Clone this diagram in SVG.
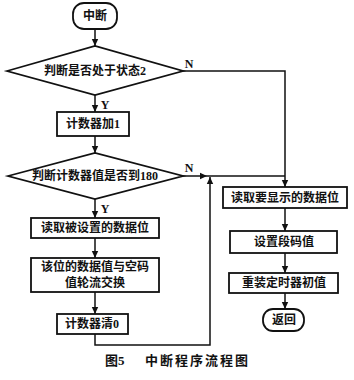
<svg xmlns="http://www.w3.org/2000/svg" width="354" height="380" viewBox="0 0 354 380">
  <style>
    .shape { fill: #fff; stroke: #111; stroke-width: 1.8; }
    .line { fill: none; stroke: #111; stroke-width: 1.5; }
    .t { font-family: "Liberation Serif", "Noto Sans CJK SC", serif; font-size: 12px; font-weight: bold; fill: #111; text-anchor: middle; dominant-baseline: central; }
    .lbl { font-family: "Liberation Serif", serif; font-size: 12px; font-weight: bold; fill: #111; text-anchor: middle; dominant-baseline: central; }
    .cap { font-family: "Liberation Serif", "Noto Sans CJK SC", serif; font-size: 13px; font-weight: bold; fill: #111; dominant-baseline: central; }
  </style>
  <defs>
    <marker id="arr" markerWidth="8" markerHeight="8" refX="7" refY="4" orient="auto" markerUnits="userSpaceOnUse">
      <path d="M0,0.8 L7,4 L0,7.2 Z" fill="#111"/>
    </marker>
  </defs>
  <rect width="354" height="380" fill="#fff"/>

  <g id="connectors">
    <line class="line" x1="95" y1="29" x2="95" y2="46" marker-end="url(#arr)"/>
    <line class="line" x1="95" y1="95" x2="95" y2="112" marker-end="url(#arr)"/>
    <line class="line" x1="95" y1="136" x2="95" y2="153" marker-end="url(#arr)"/>
    <line class="line" x1="95" y1="199" x2="95" y2="218" marker-end="url(#arr)"/>
    <line class="line" x1="95" y1="238" x2="95" y2="258" marker-end="url(#arr)"/>
    <line class="line" x1="95" y1="292" x2="95" y2="314" marker-end="url(#arr)"/>
    <polyline class="line" points="183,71 285,71 285,187" marker-end="url(#arr)"/>
    <line class="line" x1="183" y1="176" x2="207" y2="176" marker-end="url(#arr)"/>
    <line class="line" x1="207" y1="176" x2="285" y2="176"/>
    <polyline class="line" points="95,334 95,345 210,345 210,177" marker-end="url(#arr)"/>
    <line class="line" x1="285" y1="208" x2="285" y2="231" marker-end="url(#arr)"/>
    <line class="line" x1="285" y1="253" x2="285" y2="273" marker-end="url(#arr)"/>
    <line class="line" x1="285" y1="293" x2="285" y2="309" marker-end="url(#arr)"/>
    <text class="lbl" x="189" y="64">N</text>
    <text class="lbl" x="105" y="105">Y</text>
    <text class="lbl" x="189" y="168">N</text>
    <text class="lbl" x="105" y="209">Y</text>
  </g>

  <g id="start">
    <rect class="shape" x="73" y="3" width="44" height="26" rx="11"/>
    <text class="t" x="95" y="16">中断</text>
  </g>
  <g id="decision1">
    <polygon class="shape" points="7,71 95,46 183,71 95,95"/>
    <text class="t" x="95" y="71" font-size="11.5">判断是否处于状态2</text>
  </g>
  <g id="counter-inc">
    <rect class="shape" x="57" y="112" width="72" height="24"/>
    <text class="t" x="93" y="124">计数器加1</text>
  </g>
  <g id="decision2">
    <polygon class="shape" points="8,176 95,153 183,176 95,199"/>
    <text class="t" x="95" y="176">判断计数器值是否到180</text>
  </g>
  <g id="read-set">
    <rect class="shape" x="31" y="218" width="128" height="20"/>
    <text class="t" x="95" y="228">读取被设置的数据位</text>
  </g>
  <g id="swap">
    <rect class="shape" x="31" y="258" width="128" height="34"/>
    <text class="t" x="95" y="267">该位的数据值与空码</text>
    <text class="t" x="95" y="283">值轮流交换</text>
  </g>
  <g id="counter-clear">
    <rect class="shape" x="57" y="314" width="71" height="20"/>
    <text class="t" x="92" y="324">计数器清0</text>
  </g>
  <g id="read-display">
    <rect class="shape" x="223" y="187" width="124" height="21"/>
    <text class="t" x="285" y="197.5">读取要显示的数据位</text>
  </g>
  <g id="set-seg">
    <rect class="shape" x="230" y="231" width="107" height="22"/>
    <text class="t" x="284" y="242">设置段码值</text>
  </g>
  <g id="reload">
    <rect class="shape" x="229" y="273" width="109" height="20"/>
    <text class="t" x="284" y="283">重装定时器初值</text>
  </g>
  <g id="return">
    <rect class="shape" x="263" y="309" width="41" height="22" rx="10"/>
    <text class="t" x="284" y="320">返回</text>
  </g>
  <g id="caption">
    <text class="cap" x="105" y="360">图5</text>
    <text class="cap" x="145" y="360" letter-spacing="2">中断程序流程图</text>
  </g>
</svg>
